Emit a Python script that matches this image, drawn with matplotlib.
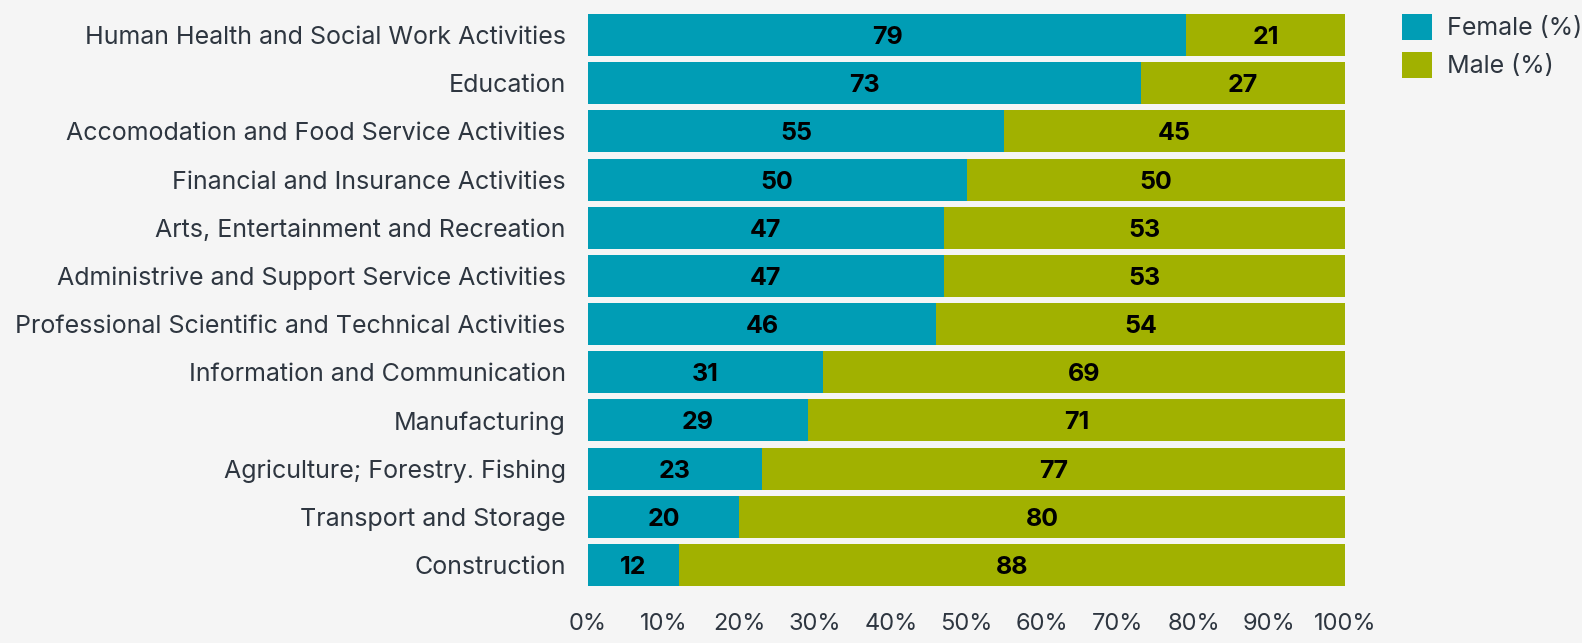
import matplotlib
matplotlib.use("Agg")
import matplotlib.pyplot as plt
from matplotlib.patches import Patch

categories = [
    "Human Health and Social Work Activities",
    "Education",
    "Accomodation and Food Service Activities",
    "Financial and Insurance Activities",
    "Arts, Entertainment and Recreation",
    "Administrive and Support Service Activities",
    "Professional Scientific and Technical Activities",
    "Information and Communication",
    "Manufacturing",
    "Agriculture; Forestry. Fishing",
    "Transport and Storage",
    "Construction",
]
female = [79, 73, 55, 50, 47, 47, 46, 31, 29, 23, 20, 12]
male = [21, 27, 45, 50, 53, 53, 54, 69, 71, 77, 80, 88]
x_ticks = [0, 10, 20, 30, 40, 50, 60, 70, 80, 90, 100]
series_names = ["Female (%)", "Male (%)"]

TEAL = "#009db5"
OLIVE = "#a1b100"
BG = "#f5f5f5"
TXT = "#2e3640"
FONT = ["Inter", "DejaVu Sans"]

plt.rcParams["font.family"] = FONT

W, H = 1582, 643
fig = plt.figure(figsize=(W / 100, H / 100), dpi=100, facecolor=BG)
top_px, bot_px = 11, 589
ax = fig.add_axes([588 / W, 1 - bot_px / H, (1345 - 588) / W, (bot_px - top_px) / H])
ax.set_facecolor(BG)

ypos = list(range(len(categories)))
h = 0.875
ax.barh(ypos, female, height=h, color=TEAL, linewidth=0)
ax.barh(ypos, male, left=female, height=h, color=OLIVE, linewidth=0)

for y, f, m in zip(ypos, female, male):
    ax.text(f / 2, y, f"{f}", ha="center", va="center_baseline", fontsize=18,
            fontweight="bold", color="black")
    ax.text(f + m / 2, y, f"{m}", ha="center", va="center_baseline", fontsize=18,
            fontweight="bold", color="black")

ax.set_xlim(0, 100)
ax.set_ylim(len(categories) - 0.5, -0.5)
ax.set_yticks(ypos)
ax.set_yticklabels(categories, fontsize=18, color=TXT)
for lbl in ax.get_yticklabels():
    lbl.set_va("center_baseline")
ax.set_xticks(x_ticks)
ax.set_xticklabels([f"{t}%" for t in x_ticks], fontsize=17, color=TXT)
ax.tick_params(axis="y", length=0, pad=16)
ax.tick_params(axis="x", length=0, pad=17)
for s in ax.spines.values():
    s.set_visible(False)

handles = [Patch(facecolor=TEAL, edgecolor="none"), Patch(facecolor=OLIVE, edgecolor="none")]
fig.legend(handles, series_names, loc="upper left", bbox_to_anchor=(1402 / W, 1 - 14 / H),
           frameon=False, fontsize=18, labelcolor=TXT, handlelength=1.2, handleheight=1.2,
           handletextpad=0.6, labelspacing=0.48, borderaxespad=0, borderpad=0)

fig.savefig("out.png", dpi=100, facecolor=BG)
